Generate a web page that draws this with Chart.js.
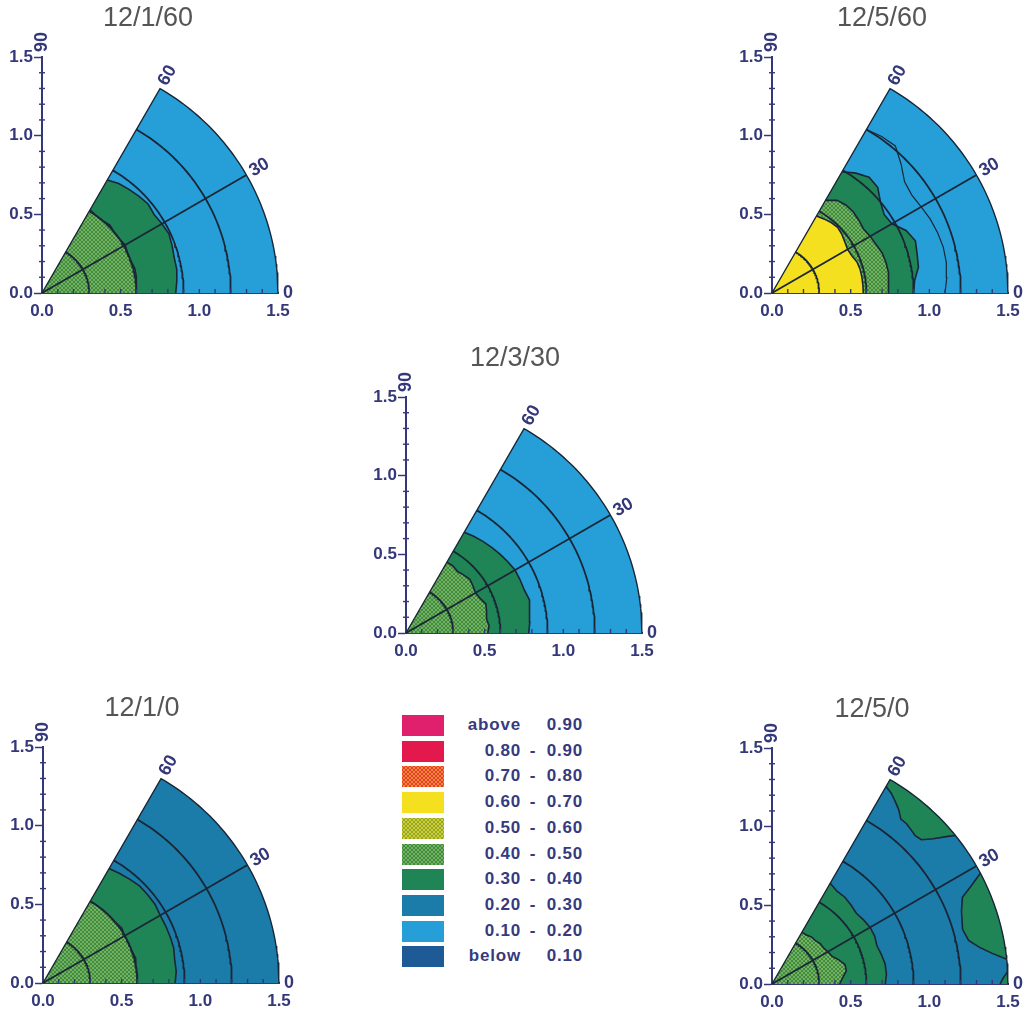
<!DOCTYPE html>
<html lang="en">
<head>
<meta charset="utf-8">
<title>Sector contours</title>
<script src="https://cdn.jsdelivr.net/npm/chart.js@4.4.1/dist/chart.umd.min.js"></script>
<style>
  html, body { margin: 0; padding: 0; background: #fff; }
  #page { position: relative; width: 1030px; height: 1013px; overflow: hidden; }
  .panel { position: absolute; }
  #legend { position: absolute; left: 402px; top: 715px; width: 182px; height: 260px; }
  .row { position: absolute; left: 0; width: 182px; height: 21px; line-height: 21px;
         font: bold 17px "Liberation Sans", Arial, sans-serif; color: #363a7e; letter-spacing: 0.8px; }
  .sw { position: absolute; left: 0; top: 0; width: 42px; height: 21px; }
  .lo { position: absolute; right: 63px; top: 0; }
  .dash { position: absolute; left: 124px; width: 14px; text-align: center; top: 0; }
  .hi { position: absolute; right: 1px; top: 0; }
</style>
</head>
<body>
<div id="page">
  <canvas id="c0" class="panel" width="300" height="330"></canvas>
  <canvas id="c1" class="panel" width="300" height="330"></canvas>
  <canvas id="c2" class="panel" width="300" height="330"></canvas>
  <canvas id="c3" class="panel" width="300" height="330"></canvas>
  <canvas id="c4" class="panel" width="300" height="330"></canvas>
  <div id="legend"></div>
</div>
<script>
// sector 0..60 deg, radius 0..1.5
const ANGLES = [0, 5, 10, 15, 20, 25, 30, 35, 40, 45, 50, 55, 60];
const RMAX = 1.5;
const GRID_RADII = [0.3, 0.6, 0.9, 1.2];
const RADIAL_LINES = [30];
const ANGLE_LABELS = [0, 30, 60, 90];

// shading classes, lowest first
const LEVEL_LO = ['below', '0.10', '0.20', '0.30', '0.40', '0.50', '0.60', '0.70', '0.80', 'above'];
const LEVEL_HI = ['0.10', '0.20', '0.30', '0.40', '0.50', '0.60', '0.70', '0.80', '0.90', '0.90'];

const PANEL_TITLES = ['12/1/60', '12/5/60', '12/3/30', '12/1/0', '12/5/0'];
// class that fills the rest of each sector
const PANEL_BASE = [1, 1, 1, 2, 2];

// bands filled from the origin out to r(angle): [class, radius at each of ANGLES]
const BANDS_1_60 = [
  [3, [0.85, 0.86, 0.87, 0.87, 0.88, 0.89, 0.88, 0.87, 0.88, 0.87, 0.86, 0.85, 0.83]],
  [4, [0.60, 0.60, 0.61, 0.61, 0.60, 0.60, 0.61, 0.60, 0.60, 0.61, 0.60, 0.60, 0.61]]
];
const BANDS_5_60 = [
  [3, [0.90, 0.91, 0.945, 0.955, 0.97, 0.94, 0.88, 0.87, 0.90, 0.95, 0.96, 0.93, 0.89]],
  [4, [0.74, 0.745, 0.75, 0.75, 0.745, 0.73, 0.72, 0.71, 0.72, 0.73, 0.73, 0.72, 0.68]],
  [6, [0.58, 0.58, 0.58, 0.58, 0.575, 0.56, 0.555, 0.565, 0.58, 0.59, 0.585, 0.575, 0.565]]
];
const BANDS_3_30 = [
  [3, [0.78, 0.79, 0.80, 0.81, 0.80, 0.80, 0.80, 0.79, 0.78, 0.77, 0.76, 0.75, 0.74]],
  [4, [0.52, 0.53, 0.52, 0.53, 0.54, 0.52, 0.51, 0.52, 0.53, 0.52, 0.51, 0.52, 0.52]]
];
const BANDS_1_0 = [
  [3, [0.84, 0.85, 0.85, 0.86, 0.86, 0.86, 0.86, 0.87, 0.87, 0.87, 0.86, 0.85, 0.84]],
  [4, [0.60, 0.60, 0.60, 0.61, 0.60, 0.60, 0.60, 0.61, 0.60, 0.60, 0.60, 0.60, 0.60]]
];
const BANDS_5_0 = [
  [3, [0.72, 0.73, 0.73, 0.72, 0.71, 0.72, 0.72, 0.71, 0.70, 0.71, 0.72, 0.72, 0.74]],
  [4, [0.43, 0.45, 0.48, 0.48, 0.45, 0.42, 0.41, 0.40, 0.40, 0.39, 0.39, 0.38, 0.38]]
];

// patches reaching the rim: [class, angles, inner radius at those angles]
const PATCHES_5_0 = [
  [3, [39, 40, 42, 44, 46, 48, 50, 52, 54, 56, 58, 60],
      [1.50, 1.46, 1.38, 1.32, 1.31, 1.32, 1.33, 1.33, 1.37, 1.40, 1.43, 1.45]],
  [3, [6, 8, 10, 12.5, 16, 21, 24.5, 26, 28],
      [1.50, 1.41, 1.34, 1.28, 1.26, 1.29, 1.33, 1.40, 1.50]],
  [3, [0, 1.5, 3], [1.45, 1.47, 1.50]]
];

// contour lines with the same shading on both sides, radius at each of ANGLES
const ISOLINES_5_60 = [
  [1.10, 1.115, 1.125, 1.127, 1.12, 1.11, 1.095, 1.085, 1.10, 1.16, 1.22, 1.215, 1.20]
];

const PANELS = [
  { title: PANEL_TITLES[0], base: PANEL_BASE[0], bands: BANDS_1_60, patches: [], isolines: [] },
  { title: PANEL_TITLES[1], base: PANEL_BASE[1], bands: BANDS_5_60, patches: [], isolines: ISOLINES_5_60 },
  { title: PANEL_TITLES[2], base: PANEL_BASE[2], bands: BANDS_3_30, patches: [], isolines: [] },
  { title: PANEL_TITLES[3], base: PANEL_BASE[3], bands: BANDS_1_0, patches: [], isolines: [] },
  { title: PANEL_TITLES[4], base: PANEL_BASE[4], bands: BANDS_5_0, patches: PATCHES_5_0, isolines: [] }
];

// canvas left, canvas top, title offset from the origin
const PANEL_LAYOUT = [[0, 0, 106], [730, 0, 110], [364, 340, 109], [1, 690, 99], [730, 691, 100]];

// ---- styles ----
const NAVY = '#343879';
const INK = '#1a2636';
const LEVEL_COLORS = ['#1d5a96', '#269fd8', '#1b7ba9', '#1f8456', '#74b35c',
                      '#cdd033', '#f4e01f', '#f08a36', '#e3194e', '#e0206d'];
const LEVEL_HATCH = [null, null, null, null, '#3f8a45', '#96a52c', null, '#e23d2f', null, null];
const FONT = '"Liberation Sans", Arial, sans-serif';

// 4x4 cross-hatch tile
function hatchTile(base, ink) {
    var c = document.createElement('canvas');
    c.width = 4; c.height = 4;
    var g = c.getContext('2d');
    g.fillStyle = base;
    g.fillRect(0, 0, 4, 4);
    g.fillStyle = ink;
    for (var i = 0; i < 4; i++) {
        g.fillRect(i, 3 - i, 1, 1);
        g.fillRect(i, i, 1, 1);
    }
    return c;
}

var patterns = {};
function fillFor(level) {
    if (!LEVEL_HATCH[level]) return LEVEL_COLORS[level];
    if (!patterns[level]) {
        var tile = hatchTile(LEVEL_COLORS[level], LEVEL_HATCH[level]);
        patterns[level] = tile.getContext('2d').createPattern(tile, 'repeat');
    }
    return patterns[level];
}

function polar(r, deg) {
    var t = deg * Math.PI / 180;
    return { x: r * Math.cos(t), y: r * Math.sin(t) };
}

function arc(r, from, to) {
    var pts = [];
    var dir = from <= to ? 1 : -1;
    for (var a = from; dir > 0 ? a < to : a > to; a += dir) pts.push(polar(r, a));
    pts.push(polar(r, to));
    return pts;
}

function area(points, level) {
    return { data: points, fill: 'shape', backgroundColor: fillFor(level),
             borderWidth: 0, borderColor: 'rgba(0,0,0,0)', pointRadius: 0 };
}

function stroke(points, color, width) {
    return { data: points, fill: false, borderColor: color, borderWidth: width,
             pointRadius: 0, clip: false };
}

function buildDatasets(p) {
    var origin = { x: 0, y: 0 };
    var list = [];
    // paint order, bottom first
    list.push(area([origin].concat(arc(RMAX, 0, 60), [origin]), p.base));
    p.bands.forEach(function (b) {
        var edge = ANGLES.map(function (a, k) { return polar(b[1][k], a); });
        list.push(area([origin].concat(edge, [origin]), b[0]));
    });
    p.patches.forEach(function (q) {
        var ang = q[1], rad = q[2];
        var inner = ang.map(function (a, k) { return polar(rad[k], a); });
        var rim = arc(RMAX, ang[ang.length - 1], ang[0]);
        list.push(area(inner.concat(rim, [inner[0]]), q[0]));
    });
    p.bands.forEach(function (b) {
        list.push(stroke(ANGLES.map(function (a, k) { return polar(b[1][k], a); }), INK, 1.6));
    });
    p.patches.forEach(function (q) {
        list.push(stroke(q[1].map(function (a, k) { return polar(q[2][k], a); }), INK, 1.6));
    });
    p.isolines.forEach(function (r) {
        list.push(stroke(ANGLES.map(function (a, k) { return polar(r[k], a); }), INK, 1.2));
    });
    GRID_RADII.forEach(function (r) {
        list.push(stroke(arc(r, 0, 60), INK, 1.8));
    });
    RADIAL_LINES.forEach(function (a) {
        list.push(stroke([origin, polar(RMAX, a)], INK, 1.8));
    });
    list.push(stroke([origin, polar(RMAX, 60)].concat(arc(RMAX, 60, 0)), INK, 1.4));
    // Chart.js paints the first dataset last
    return list.reverse();
}

var isMajor = function (v) { return Math.abs(v * 2 - Math.round(v * 2)) < 1e-6; };

// minor ticks, angle labels and the panel title
var sectorDecor = {
    id: 'sectorDecor',
    afterDraw: function (chart, args, opts) {
        var ctx = chart.ctx;
        var x = chart.scales.x, y = chart.scales.y;
        var ox = x.getPixelForValue(0), oy = y.getPixelForValue(0);
        ctx.save();
        ctx.strokeStyle = NAVY;
        ctx.lineWidth = 1.4;
        for (var i = 1; i < 15; i++) {
            var px = x.getPixelForValue(i / 10), py = y.getPixelForValue(i / 10);
            ctx.beginPath(); ctx.moveTo(px, oy); ctx.lineTo(px, oy - 4); ctx.stroke();
            if (i % 5) {
                ctx.beginPath(); ctx.moveTo(ox - 3, py); ctx.lineTo(ox + 3, py); ctx.stroke();
            }
        }
        ctx.fillStyle = NAVY;
        ctx.font = 'bold 18px ' + FONT;
        ctx.textAlign = 'left';
        ctx.textBaseline = 'middle';
        ANGLE_LABELS.forEach(function (a) {
            var pt = polar(RMAX, a);
            ctx.save();
            ctx.translate(x.getPixelForValue(pt.x), y.getPixelForValue(pt.y));
            ctx.rotate(-a * Math.PI / 180);
            ctx.fillText(String(a), 5, 0);
            ctx.restore();
        });
        ctx.fillStyle = '#555555';
        ctx.font = '27px ' + FONT;
        ctx.textAlign = 'center';
        ctx.fillText(opts.title, ox + opts.titleDx, oy - 274);
        ctx.restore();
    }
};

var tickFont = { family: FONT, size: 17, weight: 'bold' };

PANELS.forEach(function (p, i) {
    var canvas = document.getElementById('c' + i);
    canvas.style.left = PANEL_LAYOUT[i][0] + 'px';
    canvas.style.top = PANEL_LAYOUT[i][1] + 'px';
    new Chart(canvas, {
        type: 'line',
        data: { datasets: buildDatasets(p) },
        plugins: [sectorDecor],
        options: {
            responsive: false,
            animation: false,
            devicePixelRatio: 1,
            events: [],
            layout: { padding: { left: 0, top: 57, right: 22, bottom: 0 } },
            elements: { line: { tension: 0 } },
            plugins: {
                legend: { display: false },
                tooltip: { enabled: false },
                sectorDecor: { title: p.title, titleDx: PANEL_LAYOUT[i][2] }
            },
            scales: {
                x: {
                    type: 'linear', min: 0, max: RMAX, z: 1,
                    afterFit: function (s) { s.height = 37; },
                    border: { display: true, color: NAVY, width: 2 },
                    grid: { display: false, drawTicks: false },
                    ticks: { stepSize: 0.5, padding: 8, color: NAVY, font: tickFont,
                             maxRotation: 0, autoSkip: false,
                             callback: function (v) { return v.toFixed(1); } }
                },
                y: {
                    type: 'linear', min: 0, max: RMAX, z: 1,
                    afterFit: function (s) { s.width = 42; },
                    border: { display: true, color: NAVY, width: 2 },
                    grid: {
                        display: true, drawOnChartArea: false, drawTicks: true,
                        tickLength: 8, tickWidth: 1.5,
                        tickColor: function (c) {
                            return c.tick && isMajor(c.tick.value) ? NAVY : 'rgba(0,0,0,0)';
                        }
                    },
                    ticks: { stepSize: 0.1, padding: 1, color: NAVY, font: tickFont, autoSkip: false,
                             callback: function (v) { return isMajor(v) ? v.toFixed(1) : ''; } }
                }
            }
        }
    });
});

// legend, highest class on top
var legend = document.getElementById('legend');
for (var k = LEVEL_LO.length - 1, row = 0; k >= 0; k--, row++) {
    var div = document.createElement('div');
    div.className = 'row';
    div.style.top = (row * 25.7) + 'px';
    var sw = document.createElement('div');
    sw.className = 'sw';
    sw.style.backgroundColor = LEVEL_COLORS[k];
    if (LEVEL_HATCH[k]) {
        sw.style.backgroundImage = 'url(' + hatchTile(LEVEL_COLORS[k], LEVEL_HATCH[k]).toDataURL() + ')';
    }
    div.appendChild(sw);
    var lo = document.createElement('span');
    lo.className = 'lo';
    lo.textContent = LEVEL_LO[k];
    div.appendChild(lo);
    if (k > 0 && k < LEVEL_LO.length - 1) {
        var dash = document.createElement('span');
        dash.className = 'dash';
        dash.textContent = '-';
        div.appendChild(dash);
    }
    var hi = document.createElement('span');
    hi.className = 'hi';
    hi.textContent = LEVEL_HI[k];
    div.appendChild(hi);
    legend.appendChild(div);
}
</script>
</body>
</html>
